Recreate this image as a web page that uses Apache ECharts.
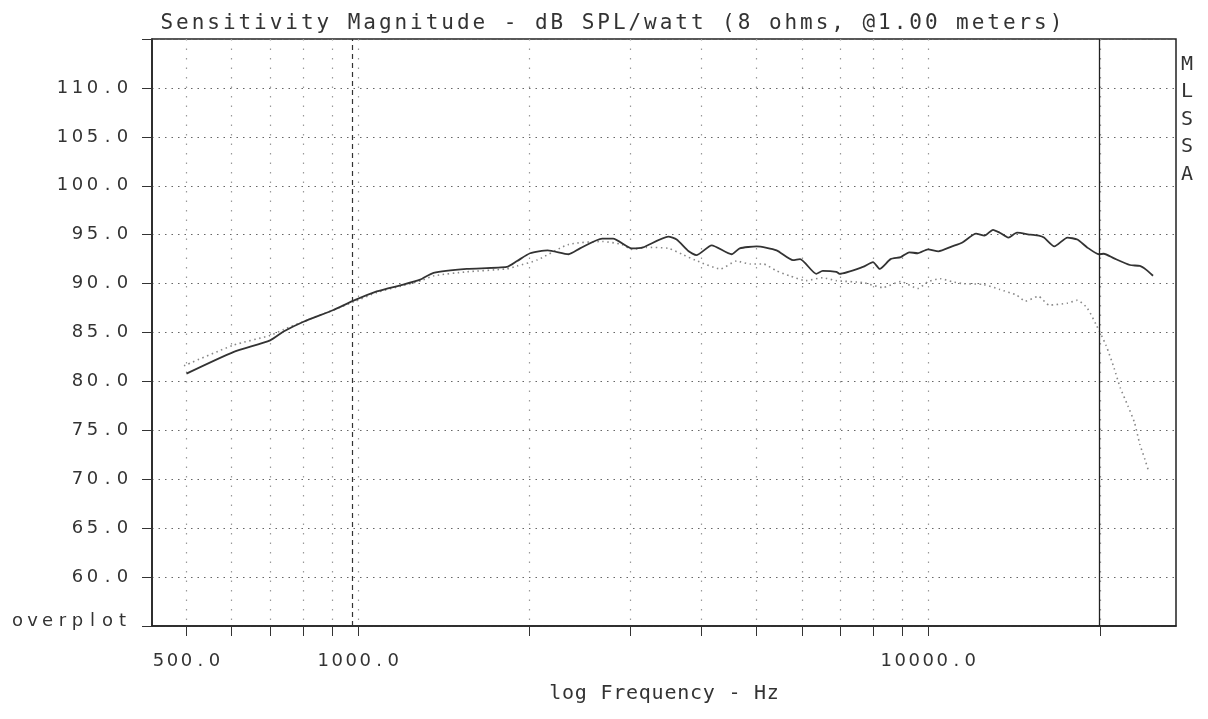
<!DOCTYPE html>
<html><head><meta charset="utf-8">
<script src="https://cdn.jsdelivr.net/npm/echarts@6/dist/echarts.min.js"></script>
<style>html,body{margin:0;padding:0;background:#fff}#c{width:1208px;height:719px}</style>
</head><body><div id="c"></div>
<script>
// ---- data ----
const titleText = 'Sensitivity Magnitude - dB SPL/watt (8 ohms, @1.00 meters)';
const xAxisTitle = 'log Frequency - Hz';
const sideLabel = ['M', 'L', 'S', 'S', 'A'];

const solidFreq = [500, 604, 701, 740, 802, 905, 977, 1078, 1201, 1285, 1356, 1551, 1823, 1900, 2003, 2150, 2340, 2450, 2680, 2800, 3020, 3160, 3500, 3620, 3800, 3920, 4170, 4520, 4670, 5000, 5420, 5790, 5960, 6360, 6530, 6900, 6990, 7680, 8000, 8220, 8590, 8950, 9260, 9580, 9990, 10420, 11010, 11480, 12130, 12550, 12990, 13350, 13820, 14310, 15110, 15630, 15960, 16640, 17550, 18260, 19000, 19920, 20320, 21140, 22580, 23500, 24130, 24790];
const solidDb = [80.8, 83.0, 84.2, 85.1, 86.1, 87.3, 88.2, 89.2, 89.9, 90.4, 91.1, 91.5, 91.7, 92.3, 93.1, 93.4, 93.0, 93.6, 94.6, 94.6, 93.6, 93.7, 94.8, 94.5, 93.3, 92.9, 93.9, 93.0, 93.6, 93.8, 93.4, 92.4, 92.5, 91.0, 91.3, 91.2, 91.0, 91.7, 92.2, 91.5, 92.5, 92.7, 93.2, 93.1, 93.5, 93.3, 93.8, 94.2, 95.1, 94.9, 95.5, 95.2, 94.7, 95.2, 95.0, 94.9, 94.7, 93.8, 94.7, 94.5, 93.7, 93.0, 93.05, 92.6, 91.9, 91.8, 91.4, 90.8];

const dotFreq = [495, 604, 701, 740, 800, 905, 980, 1080, 1200, 1290, 1360, 1550, 1820, 1900, 2060, 2340, 2680, 2900, 3020, 3200, 3500, 3700, 3900, 4320, 4610, 4870, 5140, 5420, 5710, 6100, 6530, 6900, 7680, 8330, 8950, 9580, 10000, 10500, 11000, 11500, 12500, 13350, 14310, 14800, 15600, 16300, 17550, 18260, 19000, 19700, 20500, 21200, 21700, 22400, 23000, 23500, 24000, 24300];
const dotDb = [81.6, 83.7, 84.7, 85.3, 86.1, 87.3, 88.1, 89.1, 89.8, 90.3, 90.8, 91.2, 91.5, 91.8, 92.4, 94.0, 94.3, 94.0, 93.5, 93.7, 93.6, 93.0, 92.4, 91.5, 92.3, 92.0, 92.0, 91.3, 90.8, 90.3, 90.6, 90.3, 90.1, 89.6, 90.2, 89.5, 90.2, 90.5, 90.2, 90.0, 89.9, 89.4, 88.8, 88.2, 88.7, 87.8, 88.0, 88.3, 87.5, 85.8, 83.7, 81.3, 79.4, 77.5, 75.8, 73.6, 72.0, 71.0];

const xRangeFreq = [435, 27200];
const xTickFreq = [500, 600, 700, 800, 900, 1000, 2000, 3000, 4000, 5000, 6000, 7000, 8000, 9000, 10000, 20000];
const xLabelFreq = [500, 1000, 10000];
const yRange = [55, 115];
const yStep = 5;
const dashedMarkerFreq = 977;
const solidMarkerFreq = 20000;

// ---- helpers ----
const lg = Math.log10;
function mono(s, cls) {
  return s.split('').map(c => '{' + cls + '|' + c + '}').join('');
}
const ink = '#333';

const chart = echarts.init(document.getElementById('c'), null, {renderer: 'canvas'});
chart.setOption({
  backgroundColor: '#fff',
  animation: false,
  title: {
    text: mono(titleText, 't'),
    left: 154, top: 4,
    textStyle: {
      fontWeight: 'normal',
      rich: { t: { width: 15.6, align: 'center', fontFamily: 'DejaVu Sans Mono', fontWeight: 'normal', fontSize: 21, color: ink, lineHeight: 30 } }
    }
  },
  grid: { left: 152, right: 32, top: 39, bottom: 93, show: true, borderColor: '#222', borderWidth: 1.5, backgroundColor: 'transparent' },
  xAxis: {
    type: 'value',
    min: lg(xRangeFreq[0]), max: lg(xRangeFreq[1]),
    axisLine: { show: true, lineStyle: { color: '#222', width: 1.5 } },
    axisTick: { show: true, inside: false, length: 10, customValues: xTickFreq.map(lg), lineStyle: { color: '#333', width: 1 } },
    axisLabel: {
      show: true, customValues: xLabelFreq.map(lg), margin: 26,
      formatter: v => mono(Math.round(Math.pow(10, v)).toFixed(1), 'c'),
      rich: { c: { width: 14, align: 'center', fontFamily: 'DejaVu Sans', fontSize: 18, color: ink } }
    },
    splitLine: { show: true, lineStyle: { color: '#999', width: 1.2, type: [1.5, 8] } },
    name: mono(xAxisTitle, 'n'),
    nameLocation: 'middle', nameGap: 58,
    nameTextStyle: { rich: { n: { width: 12.8, align: 'center', fontFamily: 'DejaVu Sans Mono', fontSize: 20, color: ink } } }
  },
  yAxis: {
    type: 'value', min: yRange[0], max: yRange[1], interval: yStep,
    axisLine: { show: true, lineStyle: { color: '#222', width: 1.5 } },
    axisTick: { show: true, inside: false, length: 10, lineStyle: { color: '#333', width: 1 } },
    axisLabel: {
      margin: 22,
      formatter: v => v === yRange[0] ? mono('overplot', 'o') : (v === yRange[1] ? '' : mono(v.toFixed(1), 'c')),
      rich: {
        c: { width: 15, align: 'center', fontFamily: 'DejaVu Sans', fontSize: 18, color: ink },
        o: { width: 15, align: 'center', fontFamily: 'DejaVu Sans', fontSize: 18, color: ink, padding: [0, 0, 10, 0] }
      }
    },
    splitLine: { show: true, lineStyle: { color: '#666', width: 1.2, type: [1.5, 5] } }
  },
  graphic: [{
    type: 'text', left: 1181, top: 51,
    style: { text: sideLabel.join('\n'), font: '20px "DejaVu Sans Mono"', fill: ink, lineHeight: 27.5, align: 'left' }
  }],
  series: [
    {
      type: 'line', name: 'dotted', symbol: 'none', smooth: 0.2,
      data: dotFreq.map((f, i) => [lg(f), dotDb[i]]),
      lineStyle: { color: '#888', width: 1.6, type: [1.5, 3.5] },
      z: 3
    },
    {
      type: 'line', name: 'solid', symbol: 'none', smooth: 0.2,
      data: solidFreq.map((f, i) => [lg(f), solidDb[i]]),
      lineStyle: { color: '#333', width: 1.8 },
      z: 4,
      markLine: {
        symbol: 'none', silent: true, label: { show: false },
        data: [
          { xAxis: lg(dashedMarkerFreq), lineStyle: { color: '#333', width: 1.2, type: [5, 4] } },
          { xAxis: lg(solidMarkerFreq), lineStyle: { color: '#222', width: 1.3, type: 'solid' } }
        ]
      }
    }
  ]
});
</script>
</body></html>
